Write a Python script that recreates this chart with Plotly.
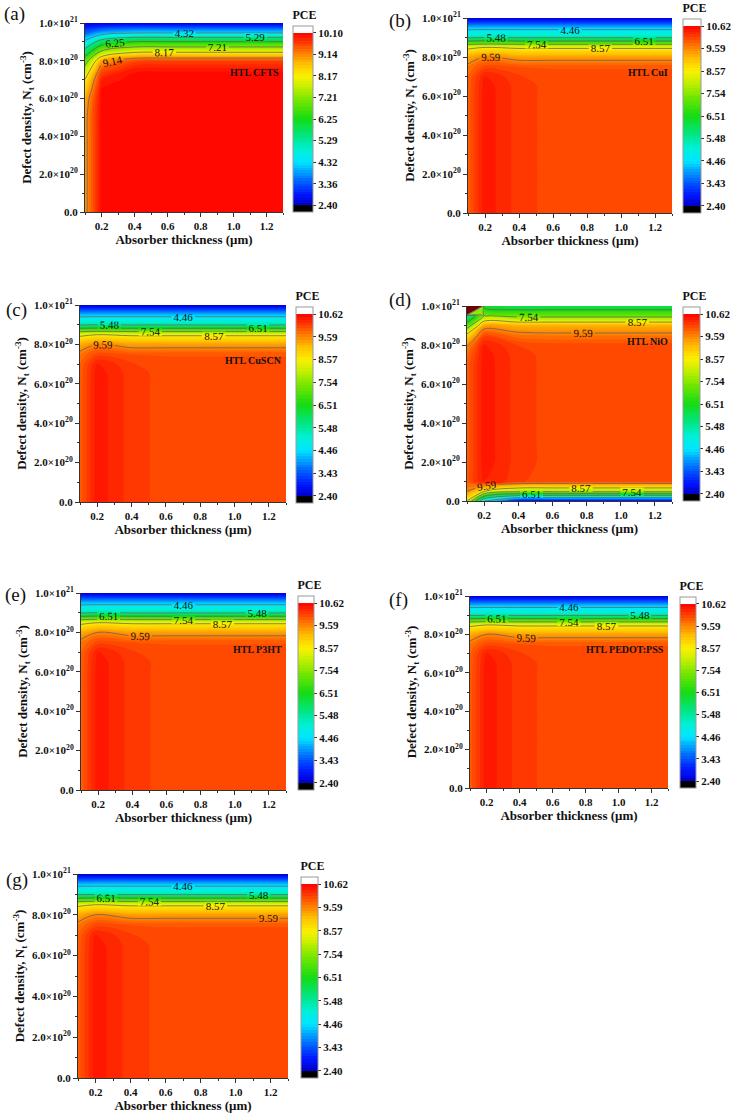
import plotly.graph_objects as go

W, H = 738, 1117
SERIF = "Liberation Serif"

# ---------------- data ----------------
THICKNESS = [0.1, 0.2, 0.4, 0.6, 0.8, 1.0, 1.3]            # absorber thickness (um)
DEFECT = [0, 0.5e20, 1e20, 2e20, 3e20, 4e20, 5e20, 6e20,
          6.5e20, 7e20, 7.5e20, 8e20, 8.5e20, 9e20, 9.5e20, 1e21]   # Nt (cm^-3)

PCE_CFTS = [
    [9.00, 10.04, 10.09, 10.09, 10.09, 10.09, 10.09],
    [9.00, 10.04, 10.09, 10.09, 10.09, 10.09, 10.09],
    [9.00, 10.04, 10.09, 10.09, 10.09, 10.09, 10.09],
    [9.00, 10.04, 10.09, 10.09, 10.09, 10.09, 10.09],
    [9.00, 10.04, 10.09, 10.09, 10.09, 10.09, 10.09],
    [9.00, 10.04, 10.09, 10.09, 10.09, 10.09, 10.09],
    [9.00, 10.04, 10.09, 10.09, 10.09, 10.09, 10.09],
    [8.85, 10.02, 10.09, 10.09, 10.09, 10.09, 10.09],
    [8.55, 9.98, 10.08, 10.09, 10.09, 10.09, 10.09],
    [8.20, 9.85, 10.06, 10.08, 10.08, 10.08, 10.08],
    [7.60, 9.50, 9.95, 9.96, 9.96, 9.96, 9.96],
    [6.80, 8.90, 9.55, 9.60, 9.60, 9.60, 9.60],
    [5.60, 7.30, 8.00, 8.02, 8.02, 8.02, 8.02],
    [4.50, 5.70, 6.30, 6.30, 6.30, 6.30, 6.30],
    [3.40, 3.90, 4.20, 4.22, 4.22, 4.22, 4.22],
    [2.50, 2.50, 2.50, 2.50, 2.50, 2.50, 2.50],
]

PCE_CUI = [
    [9.90, 10.45, 10.17, 10.05, 10.05, 10.05, 10.05],
    [9.90, 10.45, 10.17, 10.05, 10.05, 10.05, 10.05],
    [9.90, 10.45, 10.17, 10.05, 10.05, 10.05, 10.05],
    [9.90, 10.45, 10.17, 10.05, 10.05, 10.05, 10.05],
    [9.90, 10.45, 10.17, 10.05, 10.05, 10.05, 10.05],
    [9.90, 10.45, 10.17, 10.05, 10.05, 10.05, 10.05],
    [9.90, 10.45, 10.17, 10.05, 10.05, 10.05, 10.05],
    [9.90, 10.45, 10.17, 10.05, 10.05, 10.05, 10.05],
    [9.88, 10.44, 10.17, 10.05, 10.05, 10.05, 10.05],
    [9.85, 10.38, 10.12, 10.04, 10.04, 10.04, 10.04],
    [9.72, 10.05, 9.97, 9.96, 9.96, 9.96, 9.96],
    [9.30, 9.60, 9.40, 9.40, 9.40, 9.40, 9.40],
    [8.40, 8.55, 8.45, 8.45, 8.45, 8.45, 8.45],
    [5.40, 5.45, 5.42, 5.42, 5.42, 5.42, 5.42],
    [4.20, 4.22, 4.22, 4.22, 4.22, 4.22, 4.22],
    [2.45, 2.45, 2.45, 2.45, 2.45, 2.45, 2.45],
]

PCE_NIO = [
    [8.60, 4.50, 2.62, 2.60, 2.60, 2.60, 2.60],
    [9.60, 8.60, 7.80, 7.80, 7.80, 7.80, 7.80],
    [9.90, 10.40, 10.12, 10.05, 10.05, 10.05, 10.05],
    [9.90, 10.45, 10.17, 10.05, 10.05, 10.05, 10.05],
    [9.90, 10.45, 10.17, 10.05, 10.05, 10.05, 10.05],
    [9.90, 10.45, 10.17, 10.05, 10.05, 10.05, 10.05],
    [9.90, 10.45, 10.17, 10.05, 10.05, 10.05, 10.05],
    [9.90, 10.45, 10.17, 10.05, 10.05, 10.05, 10.05],
    [9.90, 10.45, 10.17, 10.05, 10.05, 10.05, 10.05],
    [9.90, 10.45, 10.17, 10.05, 10.05, 10.05, 10.05],
    [9.80, 10.44, 10.16, 10.05, 10.05, 10.05, 10.05],
    [9.55, 10.38, 10.10, 10.04, 10.04, 10.04, 10.04],
    [8.80, 10.05, 9.75, 9.70, 9.70, 9.70, 9.70],
    [7.00, 9.35, 9.25, 9.25, 9.25, 9.25, 9.25],
    [5.50, 7.60, 7.30, 7.30, 7.30, 7.30, 7.30],
    [50.0, 6.20, 6.00, 6.00, 6.00, 6.00, 6.00],
]

# same map for CuSCN, P3HT, PEDOT:PSS and panel (g)
PCE_CUSCN = PCE_CUI
PCE_P3HT = PCE_CUI
PCE_PEDOT = PCE_CUI
PCE_G = PCE_CUI

TICKS_A = ["2.40", "3.36", "4.32", "5.29", "6.25", "7.21", "8.17", "9.14", "10.10"]
TICKS_B = ["2.40", "3.43", "4.46", "5.48", "6.51", "7.54", "8.57", "9.59", "10.62"]

Y_TICKVALS = [0, 2e20, 4e20, 6e20, 8e20, 1e21]
Y_TICKTEXT = ["0.0", "2.0×10<sup>20</sup>", "4.0×10<sup>20</sup>", "6.0×10<sup>20</sup>",
              "8.0×10<sup>20</sup>", "1.0×10<sup>21</sup>"]
X_TICKVALS = [0.2, 0.4, 0.6, 0.8, 1.0, 1.2]
X_TICKTEXT = ["0.2", "0.4", "0.6", "0.8", "1.0", "1.2"]

# letter, HTL label, z, lo, hi, colorbar ticks, plot box px (l,t,r,b),
# colorbar box px (l,t,r,b), HTL label y, panel-letter position px (left, center y)
PANELS = [
    ("(a)", "HTL CFTS", PCE_CFTS, 2.40, 10.10, TICKS_A, (85, 23, 283, 212), (293, 25, 313, 212), 0.74e21, (2, 14)),
    ("(b)", "HTL CuI", PCE_CUI, 2.40, 10.62, TICKS_B, (468, 18, 672, 213), (683, 18, 701, 213), 0.72e21, (387, 21)),
    ("(c)", "HTL CuSCN", PCE_CUSCN, 2.40, 10.62, TICKS_B, (80, 305, 286, 502), (296, 306, 313, 503), 0.72e21, (4, 310)),
    ("(d)", "HTL NiO", PCE_NIO, 2.40, 10.62, TICKS_B, (467, 306, 672, 501), (683, 306, 700, 501), 0.82e21, (387, 300)),
    ("(e)", "HTL P3HT", PCE_P3HT, 2.40, 10.62, TICKS_B, (81, 593, 286, 790), (298, 595, 314, 790), 0.715e21, (3, 595)),
    ("(f)", "HTL PEDOT:PSS", PCE_PEDOT, 2.40, 10.62, TICKS_B, (470, 596, 668, 788), (680, 596, 696, 788), 0.72e21, (387, 600)),
    ("(g)", "", PCE_G, 2.40, 10.62, TICKS_B, (78, 874, 288, 1078), (301, 876, 318, 1078), None, (4, 880)),
]

RAINBOW = [
    (0.00, (0, 0, 200)), (0.06, (0, 20, 255)), (0.15, (0, 110, 255)),
    (0.25, (0, 230, 255)), (0.32, (0, 240, 215)), (0.40, (0, 230, 130)),
    (0.50, (20, 220, 20)), (0.60, (110, 230, 0)), (0.70, (210, 240, 0)),
    (0.75, (250, 240, 0)), (0.82, (255, 190, 0)), (0.88, (255, 130, 0)),
    (0.94, (255, 60, 0)), (1.00, (255, 0, 0)),
]
NLEV = 64   # filled bands between lo and hi
EXT = 2     # extra bands below lo (black) and above hi (white)
CB_TITLE_PX = 18   # room taken by the "PCE" title inside the colorbar length


def make_scale():
    # plotly maps colorscale 0 -> start - size/2 and 1 -> end + size/2
    n = NLEV + 2 * EXT + 1

    def pos(t):
        return (EXT + 0.5 + NLEV * t) / n
    cs = [[0.0, "rgb(0,0,0)"], [pos(0) - 0.5 / n, "rgb(0,0,0)"]]
    for t, c in RAINBOW:
        cs.append([pos(t), "rgb(%d,%d,%d)" % c])
    cs.append([pos(1) + 0.5 / n, "rgb(255,255,255)"])
    cs.append([1.0, "rgb(255,255,255)"])
    return cs


SCALE = make_scale()

fig = go.Figure()
layout = dict(width=W, height=H, margin=dict(l=0, r=0, t=0, b=0, autoexpand=False),
              paper_bgcolor="white", plot_bgcolor="white", showlegend=False,
              font=dict(family=SERIF, color="#111"))
annotations = []

for i, (letter, htl, z, lo, hi, ticks, box, cbox, htl_y, lpos) in enumerate(PANELS):
    k = "" if i == 0 else str(i + 1)
    xa, ya = "x" + k, "y" + k
    l, t, r, b = box
    size = (hi - lo) / NLEV
    step = (hi - lo) / 8
    tickvals = [lo + step * j for j in range(9)]
    cl, ct, cr, cb = cbox
    ct_title = ct - CB_TITLE_PX

    fig.add_trace(go.Contour(
        x=THICKNESS, y=DEFECT, z=z, xaxis=xa, yaxis=ya,
        colorscale=SCALE,
        contours=dict(start=lo - EXT * size, end=hi + EXT * size + size * 0.01, size=size,
                      coloring="fill", showlines=False),
        line=dict(width=0), hoverinfo="skip",
        colorbar=dict(
            x=cl / W, xanchor="left", y=1 - ct_title / H, yanchor="top",
            len=(cb - ct_title) / H, lenmode="fraction", thickness=cr - cl,
            xpad=0, ypad=0, outlinewidth=1, outlinecolor="#999",
            tickvals=tickvals, ticktext=ticks, ticks="outside", ticklen=3,
            tickcolor="#333",
            tickfont=dict(family=SERIF, size=11, color="#111", weight="bold"),
            title=dict(text="PCE", side="top",
                       font=dict(family=SERIF, size=12, color="#111", weight="bold")),
        ),
    ))
    if letter == "(d)":
        fig.add_trace(go.Contour(
            x=THICKNESS, y=DEFECT, z=z, xaxis=xa, yaxis=ya,
            contours=dict(type="constraint", operation="<", value=hi),
            fillcolor="#6e0000", line=dict(width=0), showscale=False, hoverinfo="skip",
        ))
    # contour lines with labels
    lstart = lo + step * 2 + (0.0001 if hi > 10.5 else -0.0001)
    fig.add_trace(go.Contour(
        x=THICKNESS, y=DEFECT, z=z, xaxis=xa, yaxis=ya,
        contours=dict(start=lstart, end=lo + step * 7 + 0.01, size=step, coloring="none",
                      showlabels=True, labelformat=".2f",
                      labelfont=dict(family=SERIF, size=11, color="#111")),
        line=dict(color="#666", width=0.8), showscale=False, hoverinfo="skip",
    ))

    axis_common = dict(showline=True, linecolor="#333", linewidth=1, ticks="outside",
                       ticklen=4, tickcolor="#333", showgrid=False, zeroline=False,
                       tickfont=dict(family=SERIF, size=11, color="#111", weight="bold"))
    layout["xaxis" + k] = dict(
        axis_common, domain=[l / W, r / W], anchor=ya, range=[0.1, 1.3],
        tickvals=X_TICKVALS, ticktext=X_TICKTEXT,
        minor=dict(ticks="outside", ticklen=2, dtick=0.1, tick0=0.1, tickcolor="#333"),
        title=dict(text="Absorber thickness (μm)", standoff=2,
                   font=dict(family=SERIF, size=13, color="#111", weight="bold")),
    )
    layout["yaxis" + k] = dict(
        axis_common, domain=[1 - b / H, 1 - t / H], anchor=xa, range=[0, 1e21],
        tickvals=Y_TICKVALS, ticktext=Y_TICKTEXT,
        minor=dict(ticks="outside", ticklen=2, dtick=1e20, tick0=0, tickcolor="#333"),
        title=dict(text="Defect density, N<sub>t</sub> (cm<sup>-3</sup>)", standoff=4,
                   font=dict(family=SERIF, size=13, color="#111", weight="bold")),
    )
    annotations.append(dict(
        xref="paper", yref="paper", x=lpos[0] / W, y=1 - lpos[1] / H,
        xanchor="left", yanchor="middle", showarrow=False, text=letter,
        font=dict(family=SERIF, size=19, color="#111"),
    ))
    if htl:
        annotations.append(dict(
            xref=xa, yref=ya, x=1.29, y=htl_y, xanchor="right", yanchor="middle",
            showarrow=False, text=htl,
            font=dict(family=SERIF, size=10, color="#111", weight="bold"),
        ))

layout["annotations"] = annotations
fig.update_layout(**layout)
fig.write_html("out.html", config={"displayModeBar": False},
               post_script="document.body.style.margin='0px';document.body.style.padding='0px';")
